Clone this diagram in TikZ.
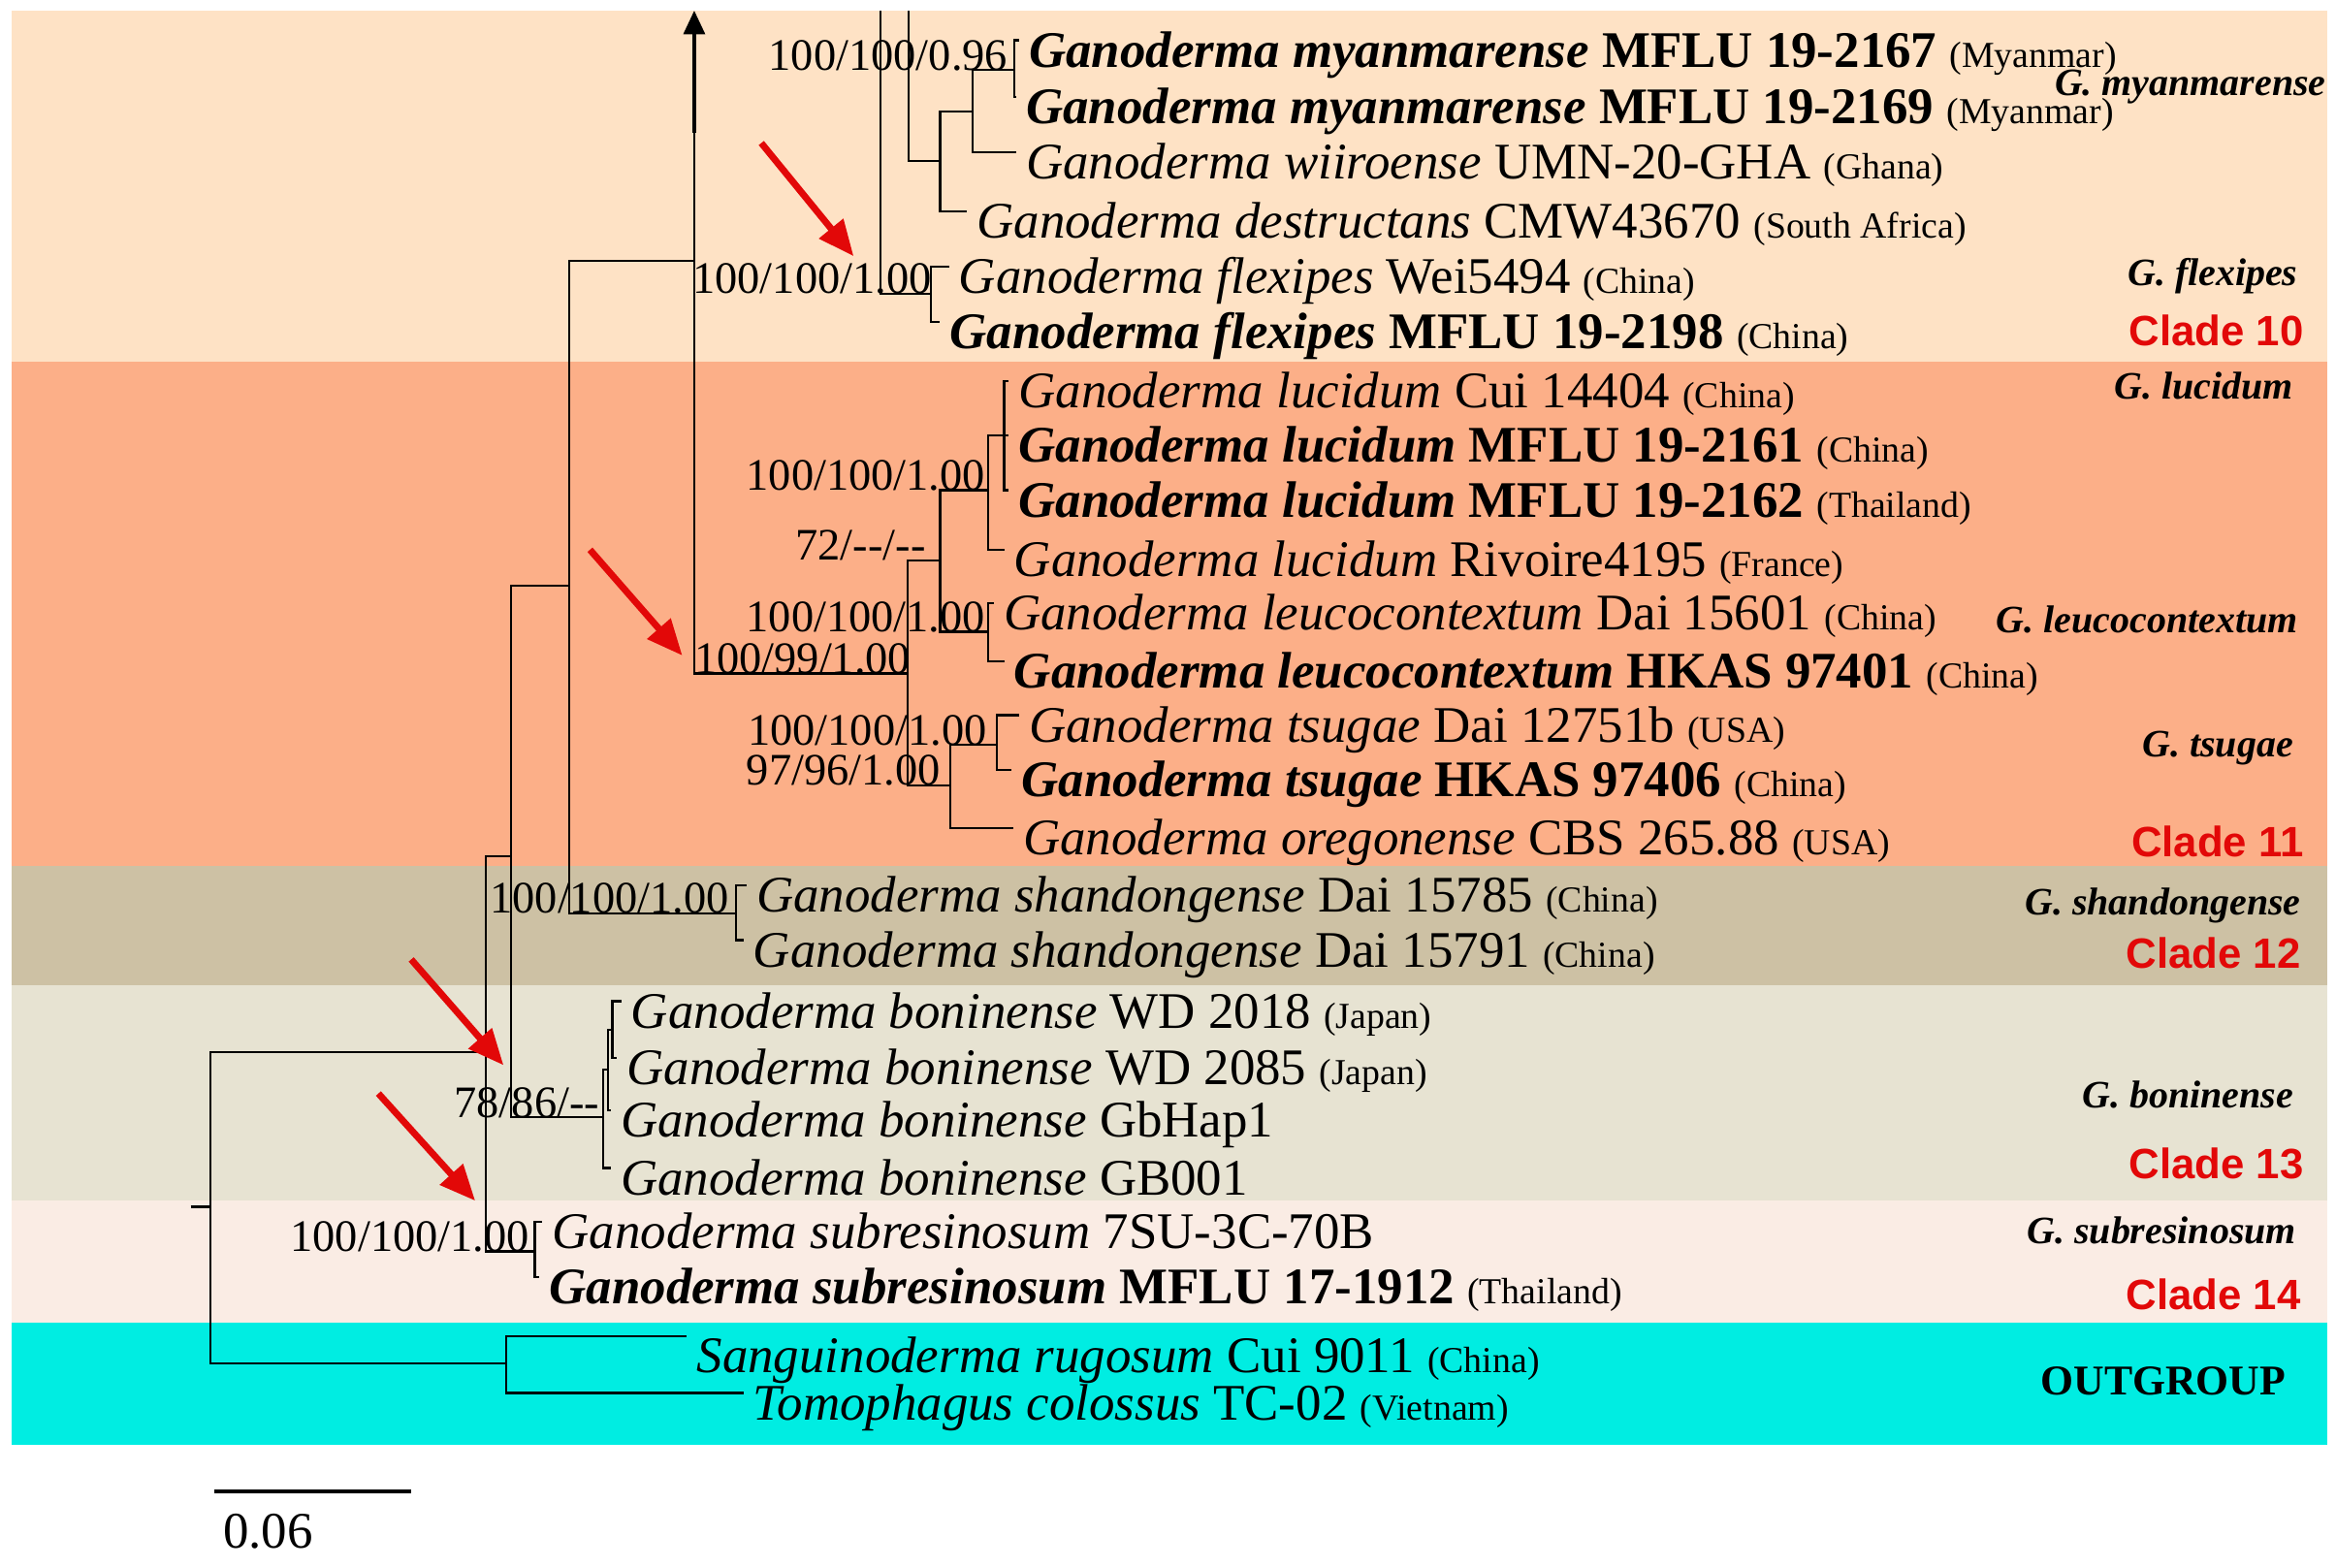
\documentclass[tikz,border=0pt]{standalone}
\usepackage{fontspec}
\setmainfont{Liberation Serif}
\newfontfamily\arialfont{Liberation Sans}
\usetikzlibrary{arrows.meta}

\definecolor{bandten}{RGB}{254,226,197}
\definecolor{bandeleven}{RGB}{252,175,136}
\definecolor{bandtwelve}{RGB}{205,193,164}
\definecolor{bandthirteen}{RGB}{231,227,210}
\definecolor{bandfourteen}{RGB}{250,236,228}
\definecolor{bandout}{RGB}{0,237,226}
\definecolor{cladered}{RGB}{226,8,8}

\newcommand{\taxsize}{\fontsize{9.8pt}{11pt}\selectfont}
\newcommand{\supsize}{\fontsize{8.6pt}{10pt}\selectfont}
\newcommand{\spsize}{\fontsize{7.4pt}{9pt}\selectfont}
\newcommand{\cladesize}{\arialfont\bfseries\fontsize{8.1pt}{9pt}\selectfont}
\newcommand{\ctry}[1]{{\fontsize{7pt}{8pt}\selectfont\mdseries\upshape(#1)}}

\begin{document}
\begin{tikzpicture}[x=0.1mm, y=-0.1mm,
    branch/.style={line width=0.4pt},
    taxon/.style={anchor=base west, inner sep=0pt, xshift=0.6mm, yshift=-1.8mm, font=\taxsize},
    boldtaxon/.style={taxon, font=\taxsize\bfseries},
    support/.style={anchor=base east, inner sep=0pt, font=\supsize},
    species/.style={anchor=east, inner sep=0pt, font=\spsize\bfseries\itshape},
    clade/.style={anchor=east, inner sep=0pt, text=cladered, font=\cladesize},
    pointer/.style={cladered, line width=0.45mm, -{Triangle[length=2.4mm,width=2mm]}},
    uparrow/.style={line width=0.3mm, -{Triangle[length=1.6mm,width=1.4mm]}}]
  \useasboundingbox (0,0) rectangle (1568,1052);

  % coloured clade bands
  \foreach \ytop/\ybot/\col in {7/243/bandten, 243/581/bandeleven, 581/661/bandtwelve,
      661/806/bandthirteen, 806/888/bandfourteen, 888/970/bandout}
    \fill[\col] (8,\ytop) rectangle (1562,\ybot);

  % tips
  \coordinate (c1) at (684,27);
  \coordinate (c2) at (682,65);
  \coordinate (c3) at (682,102);
  \coordinate (c4) at (649,142);
  \coordinate (c5) at (637,179);
  \coordinate (c6) at (631,216);
  \coordinate (c7) at (677,256);
  \coordinate (c8) at (677,292);
  \coordinate (c9) at (677,329);
  \coordinate (c10) at (674,369);
  \coordinate (c11) at (667,405);
  \coordinate (c12) at (674,444);
  \coordinate (c13) at (684,480);
  \coordinate (c14) at (679,517);
  \coordinate (c15) at (680,556);
  \coordinate (c16) at (501,594);
  \coordinate (c17) at (499,631);
  \coordinate (c18) at (417,672);
  \coordinate (c19) at (414,710);
  \coordinate (c20) at (410,745);
  \coordinate (c21) at (410,784);
  \coordinate (c22) at (364,820);
  \coordinate (c23) at (362,857);
  \coordinate (c24) at (461,897);
  \coordinate (c25) at (499,935);

  \node[boldtaxon] (t1) at (c1) {\textit{Ganoderma myanmarense} MFLU 19-2167 \ctry{Myanmar}};
  \node[boldtaxon] (t2) at (c2) {\textit{Ganoderma myanmarense} MFLU 19-2169 \ctry{Myanmar}};
  \node[taxon] (t3) at (c3) {\textit{Ganoderma wiiroense} UMN-20-GHA \ctry{Ghana}};
  \node[taxon] (t4) at (c4) {\textit{Ganoderma destructans} CMW43670 \ctry{South Africa}};
  \node[taxon] (t5) at (c5) {\textit{Ganoderma flexipes} Wei5494 \ctry{China}};
  \node[boldtaxon] (t6) at (c6) {\textit{Ganoderma flexipes} MFLU 19-2198 \ctry{China}};
  \node[taxon] (t7) at (c7) {\textit{Ganoderma lucidum} Cui 14404 \ctry{China}};
  \node[boldtaxon] (t8) at (c8) {\textit{Ganoderma lucidum} MFLU 19-2161 \ctry{China}};
  \node[boldtaxon] (t9) at (c9) {\textit{Ganoderma lucidum} MFLU 19-2162 \ctry{Thailand}};
  \node[taxon] (t10) at (c10) {\textit{Ganoderma lucidum} Rivoire4195 \ctry{France}};
  \node[taxon] (t11) at (c11) {\textit{Ganoderma leucocontextum} Dai 15601 \ctry{China}};
  \node[boldtaxon] (t12) at (c12) {\textit{Ganoderma leucocontextum} HKAS 97401 \ctry{China}};
  \node[taxon] (t13) at (c13) {\textit{Ganoderma tsugae} Dai 12751b \ctry{USA}};
  \node[boldtaxon] (t14) at (c14) {\textit{Ganoderma tsugae} HKAS 97406 \ctry{China}};
  \node[taxon] (t15) at (c15) {\textit{Ganoderma oregonense} CBS 265.88 \ctry{USA}};
  \node[taxon] (t16) at (c16) {\textit{Ganoderma shandongense} Dai 15785 \ctry{China}};
  \node[taxon] (t17) at (c17) {\textit{Ganoderma shandongense} Dai 15791 \ctry{China}};
  \node[taxon] (t18) at (c18) {\textit{Ganoderma boninense} WD 2018 \ctry{Japan}};
  \node[taxon] (t19) at (c19) {\textit{Ganoderma boninense} WD 2085 \ctry{Japan}};
  \node[taxon] (t20) at (c20) {\textit{Ganoderma boninense} GbHap1};
  \node[taxon] (t21) at (c21) {\textit{Ganoderma boninense} GB001};
  \node[taxon] (t22) at (c22) {\textit{Ganoderma subresinosum} 7SU-3C-70B};
  \node[boldtaxon] (t23) at (c23) {\textit{Ganoderma subresinosum} MFLU 17-1912 \ctry{Thailand}};
  \node[taxon, yshift=-0.6mm] (t24) at (c24) {\textit{Sanguinoderma rugosum} Cui 9011 \ctry{China}};
  \node[taxon] (t25) at (c25) {\textit{Tomophagus colossus} TC-02 \ctry{Vietnam}};

  % internal nodes
  \coordinate (root) at (141,810);
  \coordinate (stub) at (128,810);
  \coordinate (nA) at (326,706);
  \coordinate (nB) at (343,575);
  \coordinate (nC) at (382,393);
  \coordinate (nD) at (466,175);
  \coordinate (nE) at (609,452);
  \coordinate (nF) at (631,376);
  \coordinate (nL) at (663,329);
  \coordinate (nL2) at (674,292);
  \coordinate (nLe) at (663,424);
  \coordinate (nT) at (638,527);
  \coordinate (nTs) at (669,500);
  \coordinate (nS) at (494,613);
  \coordinate (nBo) at (405,750);
  \coordinate (nBo2) at (408,718);
  \coordinate (nBo3) at (411,691);
  \coordinate (nSu) at (359,840);
  \coordinate (nO) at (340,915);
  \coordinate (up1) at (591,7);
  \coordinate (up2) at (610,7);
  \coordinate (nFx) at (625,197);
  \coordinate (nMWD) at (631,108);
  \coordinate (nMW) at (653,75);
  \coordinate (nMy) at (681,47);
  \coordinate (arrbase) at (466,89);
  \coordinate (arrtop) at (466,7);

  % branches
  \draw[branch] (stub) -- (root) (root) |- (nA) (root) |- (nO);
  \draw[branch] (nO) |- (c24) (nO) |- (c25);
  \draw[branch] (nA) |- (nB) (nA) |- (nSu);
  \draw[branch] (nSu) |- (c22) (nSu) |- (c23);
  \draw[branch] (nB) |- (nC) (nB) |- (nBo);
  \draw[branch] (nBo) |- (nBo2) (nBo) |- (c21);
  \draw[branch] (nBo2) |- (nBo3) (nBo2) |- (c20);
  \draw[branch] (nBo3) |- (c18) (nBo3) |- (c19);
  \draw[branch] (nC) |- (nD) (nC) |- (nS);
  \draw[branch] (nS) |- (c16) (nS) |- (c17);
  \draw[branch] (nD) -- (arrbase) (nD) |- (nE);
  \draw[uparrow] (arrbase) -- (arrtop);
  \draw[branch] (nE) |- (nF) (nE) |- (nT);
  \draw[branch] (nF) |- (nL) (nF) |- (nLe);
  \draw[branch] (nL) |- (nL2) (nL) |- (c10);
  \draw[branch] (nL2) |- (c7) (nL2) |- (c8) (nL2) |- (c9);
  \draw[branch] (nLe) |- (c11) (nLe) |- (c12);
  \draw[branch] (nT) |- (nTs) (nT) |- (c15);
  \draw[branch] (nTs) |- (c13) (nTs) |- (c14);
  % clade 10 comes down from above the frame
  \draw[branch] (up1) |- (nFx) (up2) |- (nMWD);
  \draw[branch] (nFx) |- (c5) (nFx) |- (c6);
  \draw[branch] (nMWD) |- (nMW) (nMWD) |- (c4);
  \draw[branch] (nMW) |- (nMy) (nMW) |- (c3);
  \draw[branch] (nMy) |- (c1) (nMy) |- (c2);

  % support values ML/MP/BI
  \node[support] (s1) at (677,47) {100/100/0.96};
  \node[support] (s2) at (626,197) {100/100/1.00};
  \node[support] (s3) at (662,329) {100/100/1.00};
  \node[support] (s4) at (622,376) {72/-{}-/-{}-};
  \node[support] (s5) at (662,424) {100/100/1.00};
  \node[support] (s6) at (612,452) {100/99/1.00};
  \node[support] (s7) at (663,500) {100/100/1.00};
  \node[support] (s8) at (632,527) {97/96/1.00};
  \node[support] (s9) at (490,613) {100/100/1.00};
  \node[support] (s10) at (403,750) {78/86/-{}-};
  \node[support] (s11) at (356,840) {100/100/1.00};

  % red pointers
  \coordinate (p1) at (511,96);
  \coordinate (q1) at (573,172);
  \coordinate (p2) at (396,369);
  \coordinate (q2) at (458,440);
  \coordinate (p3) at (276,644);
  \coordinate (q3) at (338,715);
  \coordinate (p4) at (254,734);
  \coordinate (q4) at (319,806);
  \draw[pointer] (p1) -- (q1);
  \draw[pointer] (p2) -- (q2);
  \draw[pointer] (p3) -- (q3);
  \draw[pointer] (p4) -- (q4);

  % species and clade names
  \node[species] (g1) at (1562,58) {G. myanmarense};
  \node[species] (g2) at (1543,185) {G. flexipes};
  \node[clade] (k10) at (1547,222) {Clade 10};
  \node[species] (g3) at (1540,259) {G. lucidum};
  \node[species] (g4) at (1543,416) {G. leucocontextum};
  \node[species] (g5) at (1540,502) {G. tsugae};
  \node[clade] (k11) at (1547,565) {Clade 11};
  \node[species] (g6) at (1545,608) {G. shandongense};
  \node[clade] (k12) at (1545,640) {Clade 12};
  \node[species] (g7) at (1540,735) {G. boninense};
  \node[clade] (k13) at (1547,781) {Clade 13};
  \node[species] (g8) at (1542,826) {G. subresinosum};
  \node[clade] (k14) at (1545,869) {Clade 14};
  \node[anchor=east, inner sep=0pt, font=\bfseries\fontsize{8.1pt}{9pt}\selectfont] (og) at (1535,927) {OUTGROUP};

  % scale bar
  \coordinate (sb1) at (144,1001);
  \coordinate (sb2) at (276,1001);
  \draw[line width=0.26mm] (sb1) -- (sb2);
  \node[inner sep=0pt, font=\taxsize] (sbl) at (180,1028) {0.06};
\end{tikzpicture}
\end{document}
